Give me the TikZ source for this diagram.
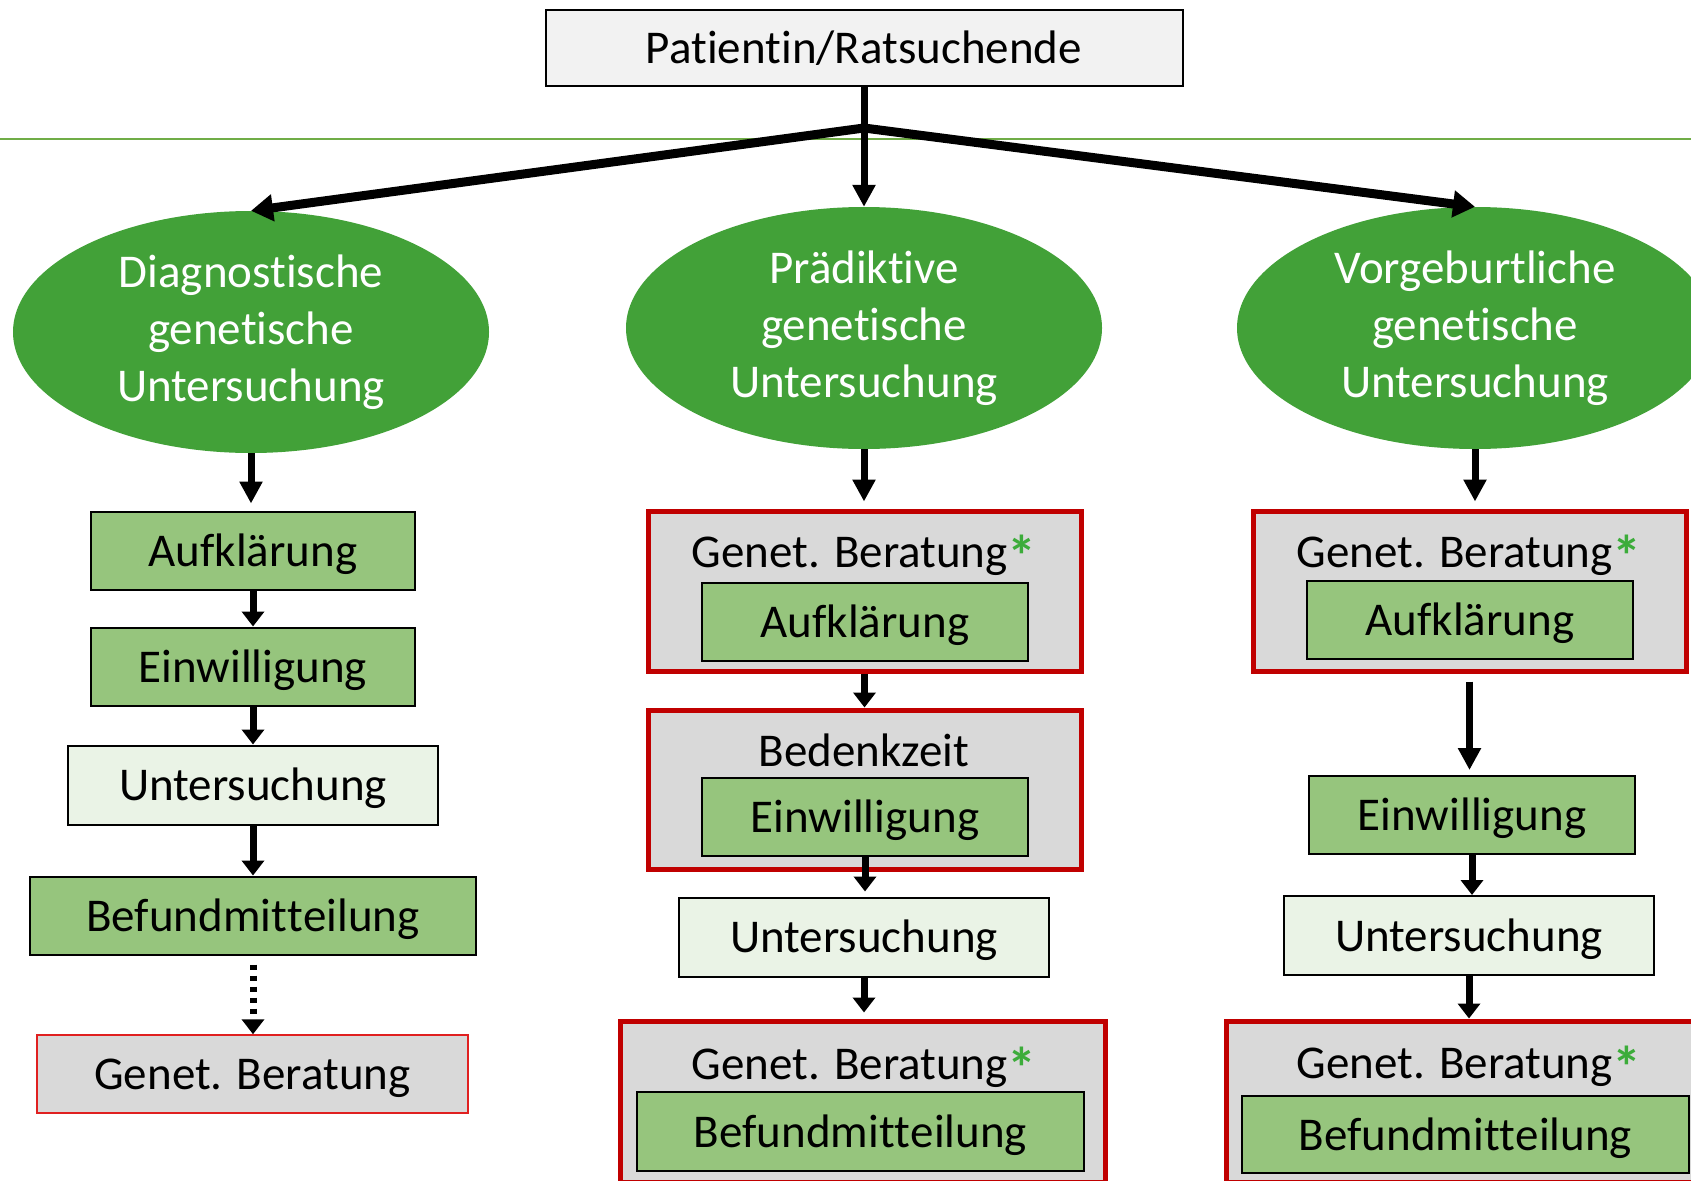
\documentclass[tikz,border=0pt]{standalone}
\usepackage{fontspec}
\setmainfont{Carlito}[Ligatures={NoCommon,NoContextual}]
\usetikzlibrary{arrows.meta,shapes.geometric}
\definecolor{ellgreen}{RGB}{66,161,56}
\definecolor{boxgreen}{RGB}{150,197,125}
\definecolor{palegreen}{RGB}{234,243,230}
\definecolor{greyfill}{RGB}{217,217,217}
\definecolor{topfill}{RGB}{242,242,242}
\definecolor{darkred}{RGB}{192,0,0}
\definecolor{thinred}{RGB}{224,32,32}
\definecolor{astgreen}{RGB}{60,172,58}
\definecolor{linegreen}{RGB}{112,173,71}
\newcommand{\gast}{{\color{astgreen}\fontsize{58}{58}\bfseries\raisebox{-9pt}{*}}}
\newcommand{\zk}{\kern0pt }
\begin{document}
\begin{tikzpicture}[x=1pt,y=-1pt,
  every node/.style={font=\fontsize{47}{57}\selectfont, inner sep=0pt},
  txt/.style={text height=41pt, text depth=9.5pt},
  ell/.style={ellipse, fill=ellgreen, text=white, align=center, minimum width=476pt, minimum height=242pt},
  gbox/.style={rectangle, txt, draw=black, line width=2pt, fill=boxgreen, minimum height=78pt},
  pbox/.style={rectangle, txt, draw=black, line width=2pt, fill=palegreen, minimum height=79pt, minimum width=370pt},
  rframe/.style={rectangle, draw=darkred, line width=5pt, fill=greyfill},
  arr/.style={line width=7pt, -{Triangle[width=22pt,length=15pt]}},
  larr/.style={line width=7pt, -{Triangle[width=22pt,length=22pt]}},
  sarr/.style={line width=9pt, -{Triangle[width=26pt,length=22pt]}},
  dotarr/.style={line width=7pt, dash pattern=on 5pt off 6pt, -{Triangle[width=22pt,length=15pt]}},
  gline/.style={draw=linegreen, line width=2pt},
]
\useasboundingbox (0,0) rectangle (1691,1180);
\clip (0,0) rectangle (1691,1180);

% green rule
\coordinate (gl0) at (0,139);
\coordinate (gl1) at (1691,139);
\draw[gline] (gl0) -- (gl1);

% top
\node[rectangle, draw=black, line width=2pt, fill=topfill, minimum width=637pt, minimum height=76pt] (top) at (864,48) {Pat\zk ient\zk in/Ratsuchende};
\coordinate (J) at (864,128);

% ellipses
\node[ell] (e1) at (251,332) {Diagnost\zk ische\\genet\zk ische\\Untersuchung};
\node[ell] (e2) at (864,328) {Prädikt\zk ive\\genet\zk ische\\Untersuchung};
\node[ell] (e3) at (1475,328) {Vorgeburtliche\\genet\zk ische\\Untersuchung};

% left column
\node[gbox, minimum width=324pt] (L1) at (253,550.5) {Aufklärung};
\node[gbox, minimum width=324pt] (L2) at (253,666.5) {Einwilligung};
\node[pbox] (L3) at (253,785) {Untersuchung};
\node[gbox, minimum width=446pt] (L4) at (253,915.5) {Befundmit\zk t\zk e\zk ilung};
\node[rectangle, txt, draw=thinred, line width=1.5pt, fill=greyfill, minimum width=431pt, minimum height=78pt] (L5) at (252.5,1074) {Genet. Beratung};

% middle column
\node[rframe, minimum width=433pt, minimum height=160pt] (m1) at (864.5,591) {};
\node[txt] (m1l) at (864,552) {Genet. Beratung\gast};
\node[gbox, minimum width=326pt] (m1i) at (865,622) {Aufklärung};
\node[rframe, minimum width=433pt, minimum height=159pt] (m2) at (864.5,789.5) {};
\node[txt] (m2l) at (864,751) {Bedenkzeit};
\node[gbox, minimum width=326pt] (m2i) at (865,817) {Einwilligung};
\node[pbox] (m3) at (864,937) {Untersuchung};
\node[rframe, minimum width=485pt, minimum height=161pt] (m4) at (862.5,1101.5) {};
\node[txt] (m4l) at (864,1064) {Genet. Beratung\gast};
\node[gbox, minimum width=447pt, minimum height=79pt] (m4i) at (860.5,1131.5) {Befundmit\zk t\zk e\zk ilung};

% right column
\node[rframe, minimum width=433pt, minimum height=160pt] (r1) at (1469.5,591) {};
\node[txt] (r1l) at (1469,552) {Genet. Beratung\gast};
\node[gbox, minimum width=326pt] (r1i) at (1470,620) {Aufklärung};
\node[gbox, minimum width=326pt] (r2) at (1472,815) {Einwilligung};
\node[pbox] (r3) at (1469,935.5) {Untersuchung};
\node[rframe, minimum width=485pt, minimum height=161pt] (r4) at (1468.5,1101.5) {};
\node[txt] (r4l) at (1469,1063) {Genet. Beratung\gast};
\node[gbox, minimum width=447pt, minimum height=77pt] (r4i) at (1465.5,1134.5) {Befundmit\zk t\zk e\zk ilung};

% top connectors
\draw[larr] (top.south) -- (e2.north);
\draw[sarr] (J) -- (e1.north);
\draw[sarr] (J) -- (e3.north);

% ellipse to first boxes
\draw[larr, shorten >=7pt] (e1.south) -- (e1.south |- L1.north);
\draw[larr, shorten >=7pt] (e2.south) -- (e2.south |- m1.north);
\draw[larr, shorten >=7pt] (e3.south) -- (e3.south |- r1.north);

% left arrows
\draw[arr] (L1.south) -- (L1.south |- L2.north);
\draw[arr] (L2.south) -- (L2.south |- L3.north);
\draw[arr] (L3.south) -- (L3.south |- L4.north);
\draw[dotarr, shorten <=9pt] (L4.south) -- (L4.south |- L5.north);

% middle arrows
\draw[arr] (m1.south) -- (m1.south |- m2.north);
\draw[arr, shorten >=5pt] (m2i.south) -- (m2i.south |- m3.north);
\draw[arr, shorten >=6pt] (m3.south) -- (m3.south |- m4.north);

% right arrows
\draw[larr, shorten <=8pt, shorten >=5pt] (r1.south) -- (r1.south |- r2.north);
\draw[arr] (r2.south) -- (r2.south |- r3.north);
\draw[arr] (r3.south) -- (r3.south |- r4.north);
\end{tikzpicture}
\end{document}
